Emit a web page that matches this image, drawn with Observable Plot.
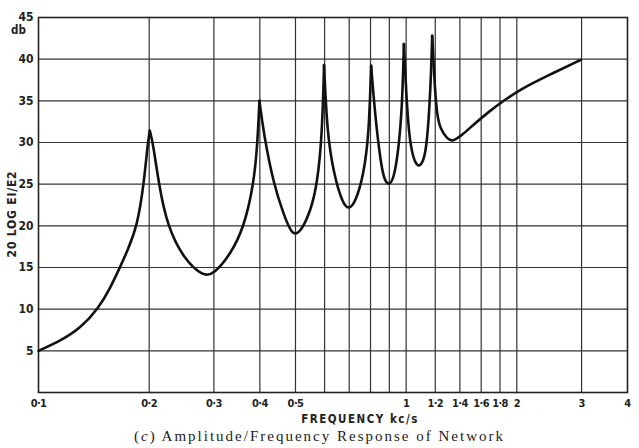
<!DOCTYPE html>
<html><head><meta charset="utf-8">
<script src="https://cdn.jsdelivr.net/npm/d3@7"></script>
<script src="https://cdn.jsdelivr.net/npm/@observablehq/plot@0.6"></script>
<style>
body{margin:0;background:#fff;}
#chart{width:639px;height:426px;}
#caption{width:639px;height:22px;text-align:center;font-family:"Liberation Serif","DejaVu Serif",serif;font-size:15px;letter-spacing:2px;line-height:20px;color:#222;}
</style></head><body>
<div id="chart"></div>
<div id="caption">(<i>c</i>) Amplitude/Frequency Response of Network</div>
<script>
// frequency in kc/s and response in dB
const freq = [0.1,0.1148,0.130,0.1456,0.157,0.166,0.1746,0.1857,0.1934,0.1983,0.2008,
  0.2047,0.2125,0.2239,0.2485,0.281,0.300,0.333,0.362,0.385,0.394,0.399,
  0.410,0.436,0.465,0.490,0.516,0.550,0.573,0.591,0.598,
  0.610,0.636,0.670,0.697,0.728,0.767,0.792,0.803,
  0.826,0.852,0.870,0.897,0.926,0.955,0.976,0.986,
  1.007,1.028,1.061,1.094,1.129,1.152,1.17,1.177,
  1.19,1.21,1.239,1.294,1.34,1.42,1.53,1.69,1.84,2.05,2.42,2.98];
const db = [5,6.2,7.7,10.1,12.6,14.9,17,20,25,30,31.4,
  30,25,20,16.0,13.9,14.2,16.6,19.8,25,29.8,35,
  31,25,21.3,18.8,19.2,21.8,25,31,39.3,
  31,26.2,22.8,21.9,22.8,26.2,31,39.2,
  32.6,27.8,25.6,24.8,25.6,29.4,34.6,41.8,
  33.4,29.4,27.3,27.1,28.4,32.6,38.6,42.8,
  38.6,33.4,31.6,30.4,30.1,30.9,32.2,33.8,35.0,36.4,38.0,39.9];
const xGrid = [0.2,0.3,0.4,0.5,0.6,0.7,0.8,0.9,1,1.2,1.4,1.6,1.8,2,3];
const xTicks = [0.1,0.2,0.3,0.4,0.5,0.7,0.9,1,1.2,1.4,1.6,1.8,2,3,4];
const yGrid = [5,10,15,20,25,30,35,40];
const yTicks = [5,10,15,20,25,30,35,40,45];

// split the curve at each resonance peak so the peaks stay sharp
const rows = [];
let seg = 0;
for (let i = 0; i < freq.length; i++) {
  rows.push({f: freq[i], v: db[i], seg});
  if (i > 0 && i < freq.length - 1 && db[i] > db[i-1] && db[i] > db[i+1]) {
    seg++;
    rows.push({f: freq[i], v: db[i], seg});
  }
}

const chart = Plot.plot({
  width: 639, height: 426,
  marginLeft: 38, marginRight: 12, marginTop: 17, marginBottom: 34,
  x: {type: "log", domain: [0.1, 4]},
  y: {domain: [0, 45]},
  style: {fontFamily: '"DejaVu Sans Condensed","DejaVu Sans",sans-serif', fontSize: "12px", fontWeight: "bold", color: "#222", background: "#fff"},
  marks: [
    Plot.gridX(xGrid, {stroke: "#333", strokeOpacity: 1, strokeWidth: 1.2}),
    Plot.gridY(yGrid, {stroke: "#333", strokeOpacity: 1, strokeWidth: 1.2}),
    Plot.frame({stroke: "#222", strokeWidth: 1.6}),
    Plot.line(rows, {x: "f", y: "v", z: "seg", curve: "basis", stroke: "#111", strokeWidth: 2.6, strokeLinecap: "round", strokeLinejoin: "round"}),
    Plot.axisX(xTicks, {tickSize: 0, tickPadding: 7, fontSize: 11, tickFormat: d => String(d).replace(".", "·"), label: null}),
    Plot.axisY(yTicks, {tickSize: 0, tickPadding: 5, label: null}),
    Plot.text(["FREQUENCY kc/s"], {frameAnchor: "bottom", textAnchor: "middle", lineAnchor: "middle", dx: 27, dy: 27, fontSize: 11.5}),
    Plot.text(["20 LOG EI/E2"], {frameAnchor: "left", textAnchor: "middle", lineAnchor: "middle", rotate: -90, dx: -26, dy: 9, fontSize: 12}),
    Plot.text(["db"], {frameAnchor: "top-left", textAnchor: "middle", lineAnchor: "middle", dx: -20, dy: 13, fontSize: 11.5})
  ]
});
document.getElementById("chart").appendChild(chart);
chart.querySelectorAll("text").forEach(t => {
  if (t.textContent === "FREQUENCY kc/s") t.setAttribute("letter-spacing", "1.5");
  if (t.textContent === "20 LOG EI/E2") t.setAttribute("letter-spacing", "0.8");
});
chart.querySelectorAll('g[aria-label="x-axis tick label"] text').forEach(t => {
  t.setAttribute("letter-spacing", "-0.6");
});
</script>
</body></html>
